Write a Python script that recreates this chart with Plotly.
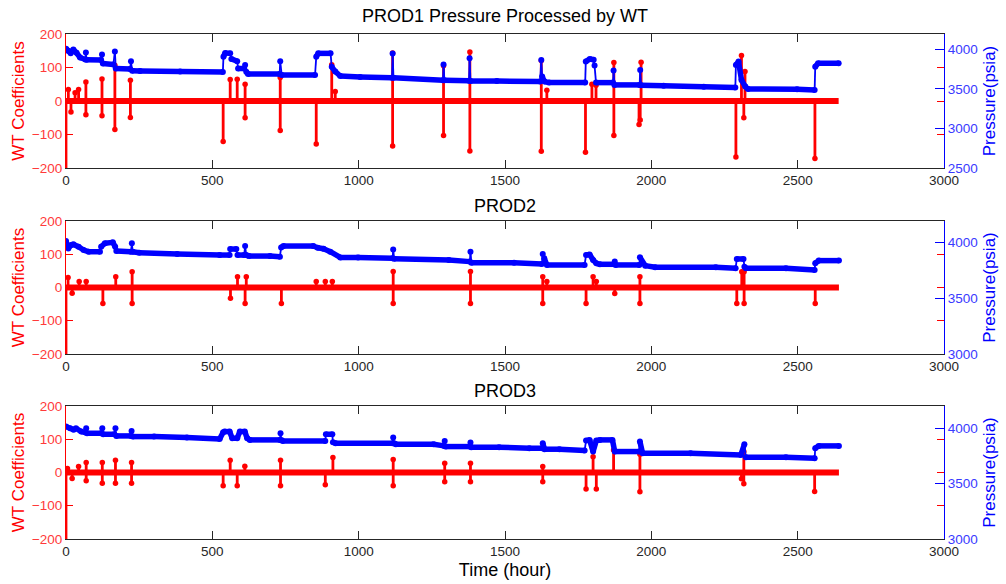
import plotly.graph_objects as go

# ---------------- data ----------------
# PROD1: pressure record (hour, psia) and wavelet-transform coefficients (hour, value)
P1_TIME = [0, 8, 16, 25, 36, 48, 66, 68, 70, 120, 123, 126, 162, 167, 170, 219, 222, 226,
           253, 390, 536, 538, 544, 561, 565, 585, 588, 609, 612, 616, 622, 730, 732, 737,
           851, 855, 862, 904, 908, 920, 937, 1005, 1114, 1116, 1119, 1288, 1290, 1293,
           1377, 1379, 1382, 1472, 1620, 1624, 1627, 1635, 1650, 1774, 1776, 1790, 1803,
           1806, 1811, 1869, 1871, 1874, 1960, 1962, 1965, 2042, 2179, 2287, 2289, 2298,
           2308, 2321, 2330, 2498, 2558, 2560, 2570, 2640]
P1_PRESS = [4010, 3983, 3950, 4000, 3957, 3898, 3873, 3960, 3870, 3865, 3935, 3823, 3810,
            3975, 3760, 3752, 3850, 3731, 3726, 3720, 3714, 3907, 3955, 3950, 3880, 3850,
            3760, 3758, 3802, 3718, 3690, 3688, 3850, 3676, 3676, 3907, 3950, 3950, 3780,
            3720, 3663, 3650, 3641, 3949, 3641, 3611, 3810, 3611, 3605, 3889, 3600, 3600,
            3593, 3867, 3656, 3593, 3580, 3580, 3846, 3880, 3870, 3795, 3580, 3580, 3732,
            3551, 3551, 3740, 3546, 3540, 3529, 3517, 3804, 3846, 3614, 3530, 3500, 3495,
            3487, 3782, 3825, 3825]
P1_WT_TIME = [0, 8, 17, 31, 43, 68, 68, 123, 123, 167, 167, 220, 220, 537, 561, 585, 612,
              612, 732, 732, 855, 908, 920, 1116, 1116, 1290, 1290, 1380, 1380, 1624, 1624,
              1643, 1775, 1797, 1811, 1872, 1872, 1958, 1962, 1965, 2289, 2308, 2316, 2320,
              2559]
P1_WT_COEF = [-215, 34, -33, 25, 34, 57, -41, 66, -44, 107, -85, 62, -49, -121, 64, 65, 50,
              -50, 70, -88, -128, 108, 28, 143, -134, 105, -103, 146, -149, 121, -150, 32,
              -153, 50, 47, 115, -103, -70, -57, 116, -167, 136, -50, 88, -172]

# PROD2
P2_TIME = [0, 8, 17, 25, 43, 60, 77, 116, 120, 133, 160, 168, 172, 222, 225, 228, 250, 380,
           525, 559, 561, 582, 586, 609, 612, 616, 625, 697, 731, 735, 743, 845, 860, 880,
           903, 937, 998, 1116, 1118, 1121, 1308, 1380, 1382, 1385, 1531, 1626, 1629, 1634,
           1643, 1772, 1777, 1789, 1801, 1812, 1824, 1873, 1875, 1878, 1959, 1961, 1979,
           2013, 2220, 2288, 2292, 2315, 2318, 2323, 2460, 2558, 2560, 2572, 2641]
P2_PRESS = [4015, 3949, 3979, 3985, 3964, 3934, 3919, 3919, 3964, 3995, 4003, 3964, 3925,
            3919, 3994, 3919, 3910, 3898, 3889, 3889, 3943, 3943, 3889, 3889, 3970, 3889,
            3880, 3880, 3874, 3958, 3970, 3970, 3955, 3945, 3919, 3868, 3866, 3860, 3940,
            3855, 3845, 3830, 3919, 3821, 3821, 3809, 3898, 3860, 3800, 3800, 3890, 3895,
            3845, 3815, 3806, 3806, 3830, 3800, 3800, 3869, 3794, 3779, 3779, 3770, 3854,
            3854, 3785, 3770, 3770, 3755, 3815, 3839, 3839]
P2_WT_TIME = [0, 7, 21, 45, 69, 126, 170, 226, 226, 562, 586, 612, 616, 736, 855, 886, 910,
              1118, 1118, 1382, 1382, 1629, 1629, 1643, 1777, 1801, 1812, 1875, 1961, 1961,
              2292, 2309, 2317, 2317, 2560]
P2_WT_COEF = [-215, 30, -17, 18, 18, -48, 32, 47, -48, -32, 32, -48, 32, -48, 18, 18, 18,
              48, -48, 48, -48, 32, -48, 18, -48, 32, 18, -18, 32, -48, -48, 47, 47, -48,
              -48]

# PROD3
P3_TIME = [0, 14, 26, 34, 52, 67, 69, 72, 120, 124, 127, 165, 169, 172, 222, 224, 228, 301,
           413, 525, 537, 542, 559, 568, 585, 594, 611, 619, 628, 731, 733, 736, 740, 886,
           888, 910, 912, 921, 1116, 1118, 1121, 1127, 1256, 1292, 1294, 1297, 1380, 1382,
           1385, 1480, 1583, 1627, 1629, 1635, 1686, 1772, 1777, 1789, 1801, 1812, 1824,
           1867, 1875, 1959, 1961, 1970, 2134, 2306, 2318, 2323, 2460, 2558, 2560, 2572,
           2641]
P3_PRESS = [4014, 3999, 3985, 3999, 3969, 3960, 3999, 3954, 3954, 3999, 3945, 3945, 3999,
            3930, 3930, 3975, 3924, 3924, 3915, 3903, 3963, 3969, 3969, 3909, 3909, 3969,
            3969, 3909, 3894, 3894, 3954, 3894, 3885, 3885, 3945, 3945, 3873, 3864, 3864,
            3915, 3864, 3855, 3855, 3840, 3885, 3834, 3834, 3870, 3828, 3828, 3819, 3819,
            3864, 3810, 3810, 3798, 3888, 3894, 3789, 3888, 3894, 3894, 3789, 3789, 3879,
            3774, 3774, 3759, 3855, 3738, 3738, 3729, 3819, 3840, 3840]
P3_WT_TIME = [0, 5, 21, 43, 69, 69, 124, 124, 169, 169, 224, 224, 537, 561, 585, 611, 733,
              733, 886, 912, 1118, 1118, 1294, 1294, 1382, 1382, 1629, 1629, 1777, 1801,
              1812, 1871, 1961, 1961, 2308, 2316, 2316, 2558]
P3_WT_COEF = [-215, 12, -18, 18, 30, -25, 30, -32, 37, -32, 30, -32, -40, 37, -40, 19, 37,
              -40, -37, 45, 39, -40, 28, -28, 28, -28, 18, -28, -50, 47, -50, 68, 55, -58,
              -19, 63, -34, -57]

TITLES = ["PROD1 Pressure Processed by WT", "PROD2", "PROD3"]
TIME_TICKS = [0, 500, 1000, 1500, 2000, 2500, 3000]
WT_TICKS = [-200, -100, 0, 100, 200]
PRESS_TICKS = [[2500, 3000, 3500, 4000], [3000, 3500, 4000], [3000, 3500, 4000]]
PRESS_RANGE = [[2500, 4195], [3000, 4195], [3000, 4200]]

# ---------------- styling ----------------
FONT = "Liberation Sans, Arial, sans-serif"
RED = "#ff0000"
BLUE = "#0000ff"
W, H = 1006, 584
X_LEFT, X_RIGHT = 66, 944
PANEL_PX = [(34, 168), (221, 354), (406, 539)]
TITLE_Y_PX = [16, 206, 391]

panels = [
    (P1_TIME, P1_PRESS, P1_WT_TIME, P1_WT_COEF),
    (P2_TIME, P2_PRESS, P2_WT_TIME, P2_WT_COEF),
    (P3_TIME, P3_PRESS, P3_WT_TIME, P3_WT_COEF),
]

fig = go.Figure()
layout = {}
annotations = []

for i, (pt, pp, ct, cv) in enumerate(panels):
    xname = "x" if i == 0 else f"x{i + 1}"
    yl = "y" if i == 0 else f"y{2 * i + 1}"
    yr = f"y{2 * i + 2}"

    # coefficient baseline across the record span
    fig.add_trace(go.Scatter(x=[pt[0], pt[-1]], y=[0, 0], mode="lines",
                             line=dict(color=RED, width=6), xaxis=xname, yaxis=yl,
                             hoverinfo="skip", showlegend=False))
    # coefficient stems
    sx, sy = [], []
    for t, v in zip(ct, cv):
        sx += [t, t, None]
        sy += [0, v, None]
    fig.add_trace(go.Scatter(x=sx, y=sy, mode="lines", line=dict(color=RED, width=2.8),
                             xaxis=xname, yaxis=yl, showlegend=False, hoverinfo="skip"))
    fig.add_trace(go.Scatter(x=ct, y=cv, mode="markers",
                             marker=dict(color=RED, size=5.5), xaxis=xname, yaxis=yl,
                             showlegend=False))

    # pressure: slow segments drawn heavy, fast jumps drawn thin
    hx, hy, lx, ly = [], [], [], []
    for k in range(len(pt) - 1):
        if pt[k + 1] - pt[k] >= 6:
            hx += [pt[k], pt[k + 1], None]
            hy += [pp[k], pp[k + 1], None]
        else:
            lx += [pt[k], pt[k + 1], None]
            ly += [pp[k], pp[k + 1], None]
    fig.add_trace(go.Scatter(x=lx, y=ly, mode="lines", line=dict(color=BLUE, width=1.8),
                             xaxis=xname, yaxis=yr, showlegend=False, hoverinfo="skip"))
    fig.add_trace(go.Scatter(x=hx, y=hy, mode="lines", line=dict(color=BLUE, width=5.5),
                             xaxis=xname, yaxis=yr, showlegend=False, hoverinfo="skip"))
    fig.add_trace(go.Scatter(x=pt, y=pp, mode="markers", marker=dict(color=BLUE, size=6),
                             xaxis=xname, yaxis=yr, showlegend=False))

    top_px, bot_px = PANEL_PX[i]
    ydom = [1 - bot_px / H, 1 - top_px / H]
    xkey = "xaxis" if i == 0 else f"xaxis{i + 1}"
    ylkey = "yaxis" if i == 0 else f"yaxis{2 * i + 1}"
    yrkey = f"yaxis{2 * i + 2}"

    layout[xkey] = dict(
        domain=[X_LEFT / W, X_RIGHT / W], anchor=yl, range=[0, 3000],
        tickvals=TIME_TICKS, ticks="inside", ticklen=8, tickcolor="#262626",
        showline=True, linecolor="#262626", linewidth=1, mirror="ticks",
        showgrid=False, zeroline=False,
        tickfont=dict(family=FONT, size=13.5, color="#262626"),
    )
    if i == 2:
        layout[xkey]["title"] = dict(text="Time (hour)", standoff=5,
                                     font=dict(family=FONT, size=18, color="#000000"))
    layout[ylkey] = dict(
        domain=ydom, anchor=xname, range=[-200, 200], tickvals=WT_TICKS,
        ticks="inside", ticklen=7, tickcolor=RED, showline=True, linecolor=RED,
        linewidth=1, mirror="ticks", showgrid=False, zeroline=False,
        tickfont=dict(family=FONT, size=13.5, color="#ff3a3a"),
        title=dict(text="WT Coefficients", standoff=2,
                   font=dict(family=FONT, size=17, color=RED)),
    )
    layout[yrkey] = dict(
        overlaying=yl, side="right", anchor=xname, range=PRESS_RANGE[i],
        tickvals=PRESS_TICKS[i], ticks="inside", ticklen=9, tickcolor=BLUE,
        showline=True, linecolor=BLUE, linewidth=1, showgrid=False, zeroline=False,
        tickfont=dict(family=FONT, size=13.5, color="#3a3aff"),
        title=dict(text="Pressure(psia)", standoff=6,
                   font=dict(family=FONT, size=17, color=BLUE)),
    )
    annotations.append(dict(
        text=TITLES[i], xref="paper", yref="paper",
        x=(X_LEFT + X_RIGHT) / 2 / W, y=1 - TITLE_Y_PX[i] / H,
        xanchor="center", yanchor="middle", showarrow=False,
        font=dict(family=FONT, size=18, color="#000000"),
    ))

fig.update_layout(
    width=W, height=H, autosize=False, template="none",
    margin=dict(l=0, r=0, t=0, b=0),
    paper_bgcolor="white", plot_bgcolor="white",
    font=dict(family=FONT), showlegend=False,
    annotations=annotations, **layout,
)

fig.write_html("out.html")
